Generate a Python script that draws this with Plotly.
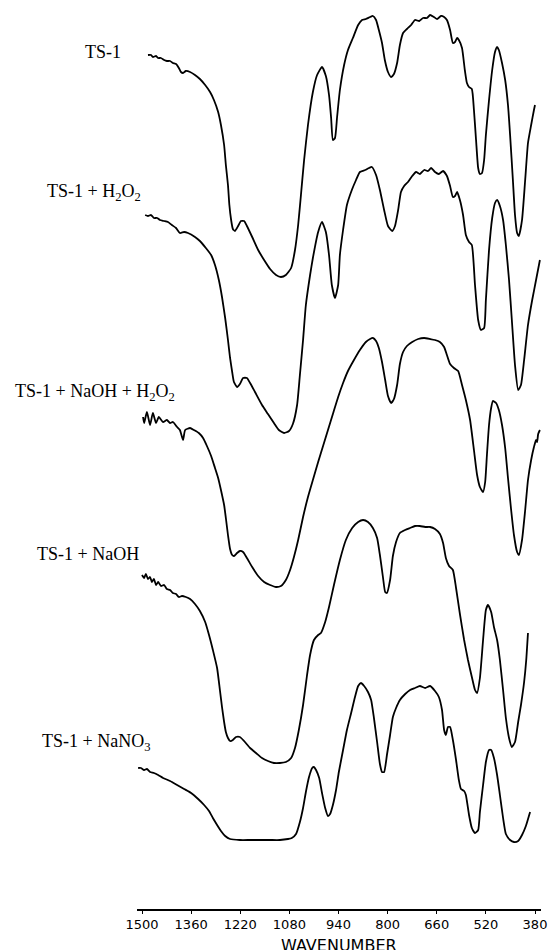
import plotly.graph_objects as go

# ---------------- data (wavenumber in cm-1, stacked transmittance in arbitrary units) ----------------
ts1_wn = [1483, 1474, 1469, 1460, 1454, 1446, 1437, 1429, 1420, 1412, 1403, 1395, 1389, 1383, 1375, 1363, 1349, 1335,
          1320, 1306, 1295, 1283, 1275, 1266, 1261, 1255, 1251, 1246, 1241, 1235, 1226, 1218, 1209, 1201, 1186, 1169,
          1152, 1135, 1118, 1104, 1090, 1075, 1064, 1055, 1047, 1038, 1027, 1013, 1001, 987, 976, 967, 961, 956, 950,
          944, 936, 924, 913, 899, 884, 873, 862, 850, 842, 833, 825, 816, 808, 799, 790, 782, 773, 765, 756, 745, 733,
          722, 710, 699, 688, 679, 668, 659, 648, 639, 631, 622, 614, 608, 602, 597, 588, 580, 574, 568, 560, 554, 548,
          542, 537, 531, 525, 520, 511, 502, 494, 488, 483, 474, 465, 457, 451, 443, 437, 431, 426, 417, 408, 400, 391,
          383, 380]
ts1_t = [854, 854, 852, 853, 851, 851, 849, 848, 848, 846, 845, 841, 837, 836, 838, 837, 834, 830,
         824, 817, 809, 797, 784, 764, 744, 724, 704, 689, 680, 678, 683, 688, 688, 683, 672, 659,
         649, 640, 634, 632, 634, 641, 659, 684, 714, 749, 784, 817, 834, 842, 833, 814, 791, 769, 771,
         792, 819, 844, 859, 871, 884, 889, 890, 892, 893, 889, 879, 866, 849, 837, 832, 835, 846, 864, 876, 880, 884,
         889, 888, 891, 891, 894, 892, 890, 893, 892, 889, 879, 866, 867, 871, 869, 861, 839, 826, 822, 820, 799, 769,
         741, 735, 736, 749, 774, 809, 839, 857, 862, 859, 846, 829, 804, 774, 729, 694, 676, 673, 689, 729, 766, 784,
         799, 804]

h2o2_wn = [1491, 1483, 1474, 1466, 1457, 1449, 1437, 1426, 1415, 1403, 1392, 1380, 1369, 1349, 1335, 1318, 1303, 1292,
           1281, 1272, 1263, 1255, 1249, 1243, 1238, 1229, 1221, 1212, 1201, 1192, 1178, 1158, 1141, 1124, 1110, 1095,
           1081, 1070, 1058, 1050, 1041, 1033, 1021, 1013, 998, 987, 976, 967, 959, 950, 941, 936, 927, 916, 902, 890,
           879, 864, 853, 845, 833, 822, 810, 799, 787, 779, 770, 762, 753, 742, 730, 719, 708, 696, 685, 676, 665, 654,
           642, 631, 622, 614, 608, 602, 594, 585, 577, 568, 560, 551, 542, 534, 525, 520, 511, 502, 494, 488, 480, 471,
           463, 454, 446, 437, 428, 420, 411, 400, 388, 377, 366]
h2o2_t = [694, 693, 694, 691, 691, 689, 688, 687, 684, 681, 676, 677, 676, 672, 668, 661, 654, 644,
          629, 612, 591, 569, 551, 537, 527, 522, 525, 531, 531, 526, 517, 504, 495, 486, 479, 476,
          478, 485, 504, 534, 569, 604, 634, 651, 677, 687, 677, 654, 624, 611, 624, 654, 679, 704, 719, 729,
          737, 739, 741, 742, 734, 719, 699, 683, 678, 683, 699, 717, 723, 727, 733, 737, 735, 739, 738, 741, 737, 735,
          738, 733, 723, 712, 713, 717, 709, 694, 674, 667, 664, 624, 589, 579, 581, 609, 659, 691, 706, 709, 703, 689,
          664, 629, 589, 544, 519, 524, 549, 584, 609, 629, 649]

naoh_h2o2_wn = [1497, 1494, 1486, 1477, 1469, 1460, 1452, 1440, 1429, 1420, 1412, 1400, 1392, 1383, 1377, 1363,
                1352, 1338, 1326, 1315, 1303, 1292, 1283, 1275, 1266, 1261, 1255, 1249,
                1243, 1238, 1229, 1221, 1212, 1201, 1186, 1169, 1152, 1135, 1118, 1104, 1090, 1078, 1067, 1055, 1041,
                1027, 1013, 998, 984, 970, 956, 941, 927, 913, 896, 879, 862, 850, 842, 833, 825, 816, 807, 799, 790,
                782, 773, 765, 756, 745, 730, 713, 696, 679, 665, 651, 639, 631, 622, 611, 599, 588, 577, 565, 554, 545,
                537, 528, 522, 517, 511, 505, 500, 491, 483, 474, 465, 457, 448, 440, 431, 426, 417, 408, 400, 391, 383,
                377, 374, 371, 366]
naoh_h2o2_t = [492, 486, 497, 484, 496, 486, 492, 487, 489, 486, 487, 482, 479, 469, 479, 481,
               479, 476, 471, 463, 453, 441, 431, 419, 404, 391, 374, 360,
               354, 353, 356, 358, 357, 351, 342, 333, 327, 324, 322, 323, 329, 339, 352, 369, 392,
               412, 429, 447, 463, 479, 495, 512, 526, 538, 549, 559, 567, 570, 571, 568, 561, 547, 529, 513, 506,
               510, 524, 545, 557, 563, 567, 570, 571, 570, 569, 567, 562, 554, 545, 541, 538, 524, 509, 489, 459, 434,
               422, 417, 427, 454, 484, 501, 508, 506, 499, 484, 461, 431, 399, 374, 357, 354, 369, 399, 429, 449, 462,
               469, 467, 475, 479]

naoh_wn = [1500, 1494, 1489, 1483, 1477, 1472, 1466, 1460, 1454, 1446, 1437, 1429, 1420, 1412, 1403, 1395, 1386, 1375,
           1363, 1349, 1335, 1320, 1309, 1298, 1286, 1278, 1272, 1266, 1261, 1255, 1249, 1241, 1232, 1221, 1209, 1192,
           1175, 1158, 1141, 1124, 1107, 1090, 1075, 1064, 1053, 1041, 1030, 1021, 1010, 998, 990, 978, 967, 953, 936,
           919, 901, 884, 870, 856, 842, 830, 822, 813, 807, 802, 793, 785, 776, 765, 750, 736, 722, 708, 693, 679, 665,
           651, 642, 634, 625, 614, 605, 594, 582, 571, 560, 551, 545, 537, 528, 520, 514, 505, 497, 488, 480, 471, 463,
           454, 446, 437, 428, 420, 411, 405, 400]
naoh_t = [334, 331, 335, 330, 332, 327, 330, 324, 327, 323, 324, 320, 319, 316, 315, 312, 313, 312,
          310, 305, 298, 287, 274, 259, 241, 219, 202, 187, 177, 171, 168, 169, 172, 172, 168, 161,
          156, 151, 148, 146, 146, 147, 151, 161, 179, 204, 233, 254, 269, 274, 276, 287, 302, 324, 349,
          369, 381, 387, 389, 387, 381, 371, 354, 331, 317, 316, 329, 353, 367, 376, 379, 381, 383, 383, 382, 382, 380,
          375, 366, 351, 343, 339, 321, 295, 269, 249, 232, 219, 216, 231, 269, 299, 304, 297, 282, 269, 249, 219, 191,
          171, 162, 167, 187, 204, 227, 249, 276]

nano3_wn = [1511, 1503, 1494, 1486, 1477, 1466, 1454, 1440, 1420, 1400, 1380, 1360, 1340, 1323, 1309, 1298, 1286, 1275,
            1263, 1249, 1221, 1192, 1164, 1135, 1107, 1084, 1073, 1061, 1050, 1041, 1033, 1024, 1015, 1010, 1004, 995,
            987, 978, 970, 964, 956, 947, 939, 927, 916, 904, 893, 884, 876, 867, 856, 847, 839, 830, 822, 816, 810, 802,
            793, 785, 776, 765, 750, 736, 722, 708, 693, 679, 665, 654, 645, 639, 634, 628, 622, 614, 605, 597, 591, 582,
            577, 568, 560, 551, 542, 537, 528, 520, 511, 505, 497, 488, 480, 471, 463, 451, 440, 428, 417, 406, 394]
nano3_t = [141, 141, 139, 140, 137, 136, 134, 131, 128, 124, 120, 116, 110, 104, 98, 91, 84, 78,
           73, 70, 69, 69, 69, 69, 69, 70, 71, 75, 87, 101, 117, 132, 141, 142, 139, 131,
           116, 101, 93, 95, 104, 119, 137, 159, 179, 196, 212, 223, 226, 223, 217, 209, 191, 167, 145, 137, 137, 154,
           174, 192, 201, 209, 215, 219, 221, 223, 221, 223, 218, 212, 199, 179, 174, 182, 182, 169, 149, 129, 120, 118,
           114, 94, 81, 76, 79, 97, 124, 147, 159, 159, 151, 134, 114, 91, 75, 69, 67, 68, 74, 83, 97]

series_names = ["TS-1", "TS-1 + H<sub>2</sub>O<sub>2</sub>", "TS-1 + NaOH + H<sub>2</sub>O<sub>2</sub>",
                "TS-1 + NaOH", "TS-1 + NaNO<sub>3</sub>"]
tick_values = [1500, 1360, 1220, 1080, 940, 800, 660, 520, 380]
tick_labels = [str(v) for v in tick_values]
axis_title = "WAVENUMBER"

series = [(ts1_wn, ts1_t), (h2o2_wn, h2o2_t), (naoh_h2o2_wn, naoh_h2o2_t), (naoh_wn, naoh_t), (nano3_wn, nano3_t)]

# ---------------- layout geometry ----------------
W, H = 553, 950
ML, MR, MT, MB = 137, 12, 0, 41
px_1500, px_380 = 142, 535                      # pixel positions of the end ticks
ppw = (px_380 - px_1500) / (1500 - 380)          # pixels per wavenumber
x_left = 1500 + (px_1500 - ML) / ppw
x_right = 380 - ((W - MR) - px_380) / ppw
plot_w = W - ML - MR
plot_h = H - MT - MB

fig = go.Figure()
for (wn, t), name in zip(series, series_names):
    fig.add_trace(go.Scatter(x=wn, y=t, mode="lines", name=name,
                             line=dict(color="black", width=1.8, shape="spline", smoothing=0.5),
                             showlegend=False, hoverinfo="skip"))

# label positions (pixel: left edge x, centre y)
label_pos = [(83, 52), (45, 193), (13, 392), (35, 554), (40, 742)]
for name, (lx, ly) in zip(series_names, label_pos):
    fig.add_annotation(text=name, xref="paper", yref="paper",
                       x=(lx - ML) / plot_w, y=(plot_h - ly) / plot_h,
                       xanchor="left", yanchor="middle", showarrow=False,
                       font=dict(family="Liberation Serif", size=18, color="black"))

fig.add_annotation(text=axis_title, xref="paper", yref="paper",
                   x=((px_1500 + px_380) / 2 - ML) / plot_w, y=(plot_h - 945) / plot_h,
                   xanchor="center", yanchor="middle", showarrow=False,
                   font=dict(family="DejaVu Sans", size=16, color="black"))

fig.update_layout(
    width=W, height=H,
    margin=dict(l=ML, r=MR, t=MT, b=MB, pad=0),
    paper_bgcolor="white", plot_bgcolor="white",
    xaxis=dict(range=[x_left, x_right], showgrid=False, zeroline=False,
               showline=True, linecolor="black", linewidth=1.5,
               ticks="outside", ticklen=3, tickwidth=1, tickcolor="black",
               tickvals=tick_values, ticktext=tick_labels,
               tickfont=dict(family="DejaVu Sans", size=13, color="black")),
    yaxis=dict(range=[0, plot_h], visible=False, showgrid=False, zeroline=False),
)

fig.write_html("out.html")
